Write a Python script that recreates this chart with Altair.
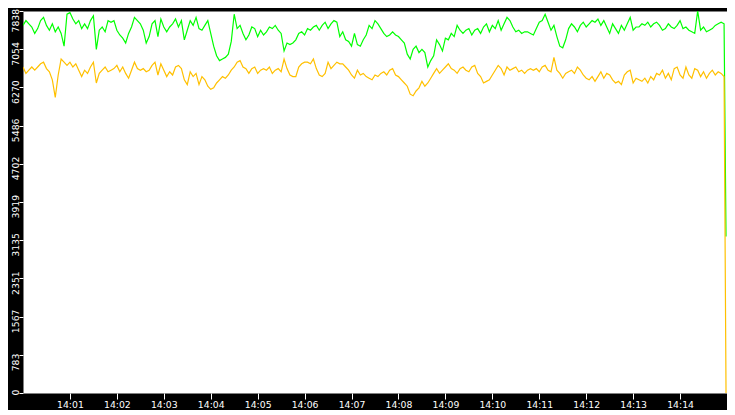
import altair as alt
import pandas as pd

green = [
    7543, 7641, 7575, 7510, 7378, 7477, 7641, 7707, 7543, 7444, 7575, 7411, 7510, 7378, 7116,
    7772, 7805, 7674, 7575, 7641, 7477, 7575, 7477, 7641, 7740, 7050, 7444, 7510, 7411, 7641,
    7608, 7641, 7444, 7346, 7280, 7181, 7378, 7510, 7707, 7641, 7575, 7444, 7181, 7313, 7575,
    7641, 7313, 7674, 7510, 7411, 7510, 7575, 7674, 7510, 7641, 7247, 7444, 7641, 7543, 7707,
    7477, 7444, 7543, 7641, 7378, 7116, 6919, 6820, 6853, 6886, 6952, 7214, 7772, 7477, 7543,
    7378, 7247, 7346, 7510, 7477, 7313, 7444, 7346, 7411, 7510, 7477, 7543, 7444, 7378, 7017,
    7181, 7149, 7181, 7247, 7378, 7411, 7346, 7477, 7444, 7510, 7543, 7444, 7543, 7608, 7477,
    7575, 7641, 7608, 7313, 7411, 7247, 7214, 7116, 7378, 7149, 7116, 7247, 7346, 7543, 7477,
    7641, 7575, 7477, 7378, 7313, 7346, 7411, 7346, 7313, 7247, 7181, 6952, 6853, 7050, 7116,
    6985, 7050, 6985, 6689, 6820, 6919, 7247, 7149, 7017, 7280, 7247, 7378, 7313, 7543, 7444,
    7378, 7444, 7477, 7346, 7444, 7477, 7378, 7510, 7575, 7411, 7543, 7477, 7641, 7444, 7575,
    7707, 7641, 7510, 7411, 7444, 7378, 7411, 7411, 7378, 7346, 7477, 7608, 7641, 7772, 7608,
    7444, 7543, 7313, 7116, 7083, 7247, 7477, 7575, 7510, 7411, 7543, 7608, 7510, 7575, 7641,
    7608, 7674, 7543, 7641, 7510, 7378, 7575, 7477, 7378, 7543, 7444, 7575, 7707, 7444, 7510,
    7510, 7575, 7543, 7608, 7510, 7575, 7608, 7543, 7444, 7477, 7575, 7510, 7477, 7543, 7641,
    7477, 7510, 7444, 7411, 7378, 7838, 7444, 7510, 7411, 7444, 7477, 7543, 7575, 7608, 7575,
    3210,
]
orange = [
    6689, 6558, 6623, 6689, 6623, 6689, 6755, 6788, 6656, 6591, 6426, 6065, 6525, 6853, 6788,
    6722, 6788, 6689, 6755, 6623, 6492, 6623, 6558, 6689, 6788, 6361, 6558, 6623, 6689, 6591,
    6623, 6656, 6722, 6591, 6689, 6558, 6459, 6623, 6788, 6656, 6623, 6656, 6591, 6623, 6722,
    6788, 6525, 6755, 6623, 6492, 6591, 6525, 6689, 6722, 6656, 6426, 6328, 6591, 6492, 6558,
    6328, 6492, 6426, 6295, 6230, 6262, 6361, 6426, 6492, 6459, 6525, 6623, 6689, 6788, 6820,
    6689, 6656, 6558, 6656, 6689, 6558, 6623, 6656, 6623, 6689, 6558, 6623, 6656, 6591, 6853,
    6656, 6525, 6492, 6492, 6689, 6755, 6788, 6788, 6755, 6853, 6656, 6525, 6492, 6558, 6788,
    6656, 6722, 6788, 6755, 6755, 6689, 6623, 6525, 6459, 6623, 6525, 6558, 6492, 6459, 6426,
    6525, 6492, 6558, 6591, 6525, 6623, 6656, 6525, 6492, 6426, 6361, 6295, 6131, 6098, 6197,
    6262, 6394, 6295, 6361, 6459, 6558, 6656, 6558, 6623, 6689, 6755, 6656, 6623, 6558, 6656,
    6689, 6623, 6591, 6689, 6722, 6558, 6492, 6361, 6394, 6426, 6525, 6623, 6722, 6656, 6525,
    6689, 6623, 6656, 6689, 6591, 6623, 6558, 6623, 6656, 6623, 6656, 6591, 6689, 6722, 6623,
    6591, 6886, 6623, 6558, 6459, 6558, 6591, 6623, 6558, 6689, 6623, 6525, 6459, 6426, 6492,
    6394, 6492, 6591, 6459, 6558, 6525, 6426, 6361, 6394, 6328, 6525, 6591, 6623, 6361, 6459,
    6426, 6394, 6459, 6361, 6492, 6426, 6558, 6525, 6623, 6459, 6558, 6426, 6656, 6689, 6525,
    6459, 6689, 6525, 6459, 6656, 6623, 6492, 6591, 6459, 6558, 6623, 6525, 6591, 6558, 6492,
    0,
]
y_ticks = [0, 783, 1567, 2351, 3135, 3919, 4702, 5486, 6270, 7054, 7838]
x_tick_minutes = list(range(1, 15))
sample_step_s = 3.75
last_sample_s = 898.75

start = pd.Timestamp("2024-01-01 14:00:00")
offsets = [i * sample_step_s for i in range(len(green) - 1)] + [last_sample_s]
times = [start + pd.Timedelta(seconds=s) for s in offsets]
df = pd.DataFrame({"t": times, "green": green, "orange": orange})

def dt(m):
    return alt.DateTime(year=2024, month=1, date=1, hours=14, minutes=m)

x_enc = alt.X(
    "t:T",
    title=None,
    scale=alt.Scale(domain=[dt(0), dt(15)]),
    axis=alt.Axis(
        values=[dt(m) for m in x_tick_minutes],
        format="%H:%M",
        labelColor="white",
        tickColor="white",
        tickSize=6,
        labelPadding=1,
        labelFont="DejaVu Sans",
        labelFontSize=9.3,
        domain=False,
        grid=False,
        labelOverlap=False,
        labelFlush=False,
        minExtent=17,
        maxExtent=17,
    ),
)

y_axis = alt.Axis(
    values=y_ticks,
    format="d",
    labelAngle=270,
    labelAlign="left",
    labelBaseline="alphabetic",
    labelOffset={
        "condition": [
            {"test": "datum.value >= 7838", "value": 21},
            {"test": "datum.value <= 0", "value": 2},
        ],
        "value": 16,
    },
    labelColor="white",
    tickColor="white",
    tickSize=4,
    labelPadding=1,
    labelFont="DejaVu Sans",
    labelFontSize=9.3,
    domain=False,
    grid=False,
    labelOverlap=False,
    minExtent=15,
    maxExtent=15,
)
y_scale = alt.Scale(domain=[0, 7838], nice=False, zero=True)

g = alt.Chart(df).mark_line(color="#00ff00", strokeWidth=1.2, clip=True).encode(
    x=x_enc,
    y=alt.Y("green:Q", title=None, scale=y_scale, axis=y_axis),
)
o = alt.Chart(df).mark_line(color="#ffc000", strokeWidth=1.2, clip=True).encode(
    x=x_enc,
    y=alt.Y("orange:Q", title=None, scale=y_scale, axis=y_axis),
)

chart = (
    alt.layer(g, o)
    .properties(width=704, height=382, background="black", padding=0)
    .configure_view(fill="white", stroke="transparent")
)

chart.save("out.html", embed_options={"renderer": "svg", "actions": False})
